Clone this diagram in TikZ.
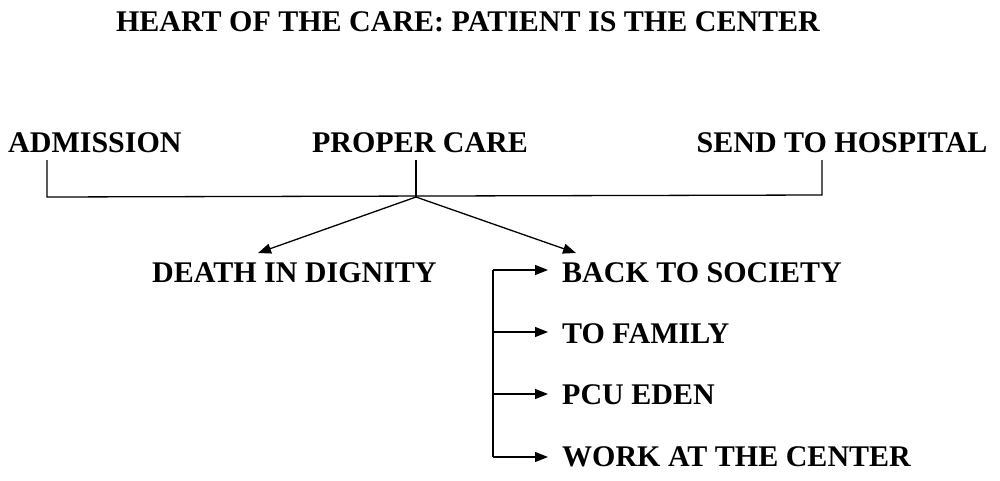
\documentclass[tikz,border=0pt]{standalone}
\usepackage{fontspec}
\setmainfont{Liberation Serif}
\usetikzlibrary{arrows.meta}
\begin{document}
\begin{tikzpicture}[x=1pt,y=-1pt,
  lab/.style={font=\fontsize{30}{33}\selectfont\bfseries,inner sep=0pt,anchor=west},
  ln/.style={line width=1.3pt},
  arr/.style={ln,-{Triangle[length=13pt,width=10pt]}}]
\useasboundingbox (0,0) rectangle (1000,480);
\node[lab,anchor=center] (title) at (468,22) {HEART OF THE CARE: PATIENT IS THE CENTER};
\node[lab] (adm) at (8,143) {ADMISSION};
\node[lab,anchor=center] (pc) at (420,143) {PROPER CARE};
\node[lab,anchor=center] (send) at (842,143) {SEND TO HOSPITAL};
\node[lab] (death) at (152,273) {DEATH IN DIGNITY};
\node[lab] (back) at (562,273) {BACK TO SOCIETY};
\node[lab] (fam) at (562,334) {TO FAMILY};
\node[lab] (pcu) at (562,395) {PCU EDEN};
\node[lab] (work) at (562,457) {WORK AT THE CENTER};
\coordinate (a1) at (47,160); \coordinate (a2) at (47,197);
\coordinate (p1) at (416,160); \coordinate (p2) at (416,197);
\coordinate (s1) at (822,160); \coordinate (s2) at (822,195);
\coordinate (dt) at (258,253); \coordinate (bt) at (576,253);
\coordinate (b1) at (493,270); \coordinate (b4) at (493,457);
\coordinate (b2) at (493,332); \coordinate (b3) at (493,394);
\coordinate (e1) at (548,270); \coordinate (e2) at (548,332);
\coordinate (e3) at (548,394); \coordinate (e4) at (548,457);
\draw[ln] (a1) -- (a2) -- (s2) -- (s1);
\draw[ln] (p1) -- (p2);
\draw[arr] (p2) -- (dt);
\draw[arr] (p2) -- (bt);
\draw[ln] (b1) -- (b4);
\draw[arr] (b1) -- (e1);
\draw[arr] (b2) -- (e2);
\draw[arr] (b3) -- (e3);
\draw[arr] (b4) -- (e4);
\end{tikzpicture}
\end{document}
